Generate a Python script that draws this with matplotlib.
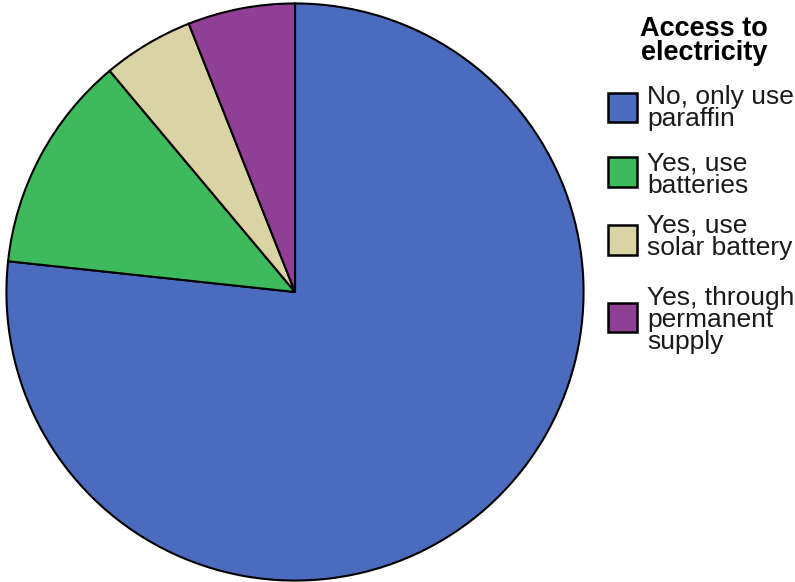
import matplotlib
matplotlib.use("Agg")
import matplotlib.pyplot as plt
from matplotlib.patches import Rectangle

categories = ["No, only use\nparaffin", "Yes, use\nbatteries", "Yes, use\nsolar battery",
              "Yes, through\npermanent\nsupply"]
values = [76.7, 12.2, 5.1, 6.0]
colors = ["#4B6CBE", "#3DBA5C", "#DAD3A4", "#913F95"]
legend_title = "Access to\nelectricity"

W, H = 795, 582
fig = plt.figure(figsize=(W / 100, H / 100), dpi=100)
fig.patch.set_facecolor("white")

r_px = 290
cx, cy = 295, 292
ax = fig.add_axes([(cx - r_px) / W, (H - cy - r_px) / H, 2 * r_px / W, 2 * r_px / H])
ax.pie(values, colors=colors, startangle=90, counterclock=False, radius=1,
       wedgeprops=dict(edgecolor="black", linewidth=1.5))
ax.set_xlim(-1.005, 1.005)
ax.set_ylim(-1.005, 1.005)
ax.set_aspect("equal")
ax.axis("off")

font = "Liberation Sans"
fig.text(704 / W, 1 - 41 / H, legend_title, ha="center", va="center", fontsize=19.5,
         fontweight="bold", family=font, linespacing=0.95)

box_centers = [107.5, 172, 240, 317.5]
text_centers = [108, 175, 237, 320]
for lab, col, yb, yt in zip(categories, colors, box_centers, text_centers):
    fig.patches.append(Rectangle((608 / W, 1 - (yb + 14.5) / H), 29 / W, 29 / H,
                                 transform=fig.transFigure, facecolor=col,
                                 edgecolor="black", linewidth=1.8))
    fig.text(647 / W, 1 - yt / H, lab, ha="left", va="center", fontsize=19,
             family=font, linespacing=0.9, color="#1a1a1a")

fig.savefig("out.png", dpi=100)
